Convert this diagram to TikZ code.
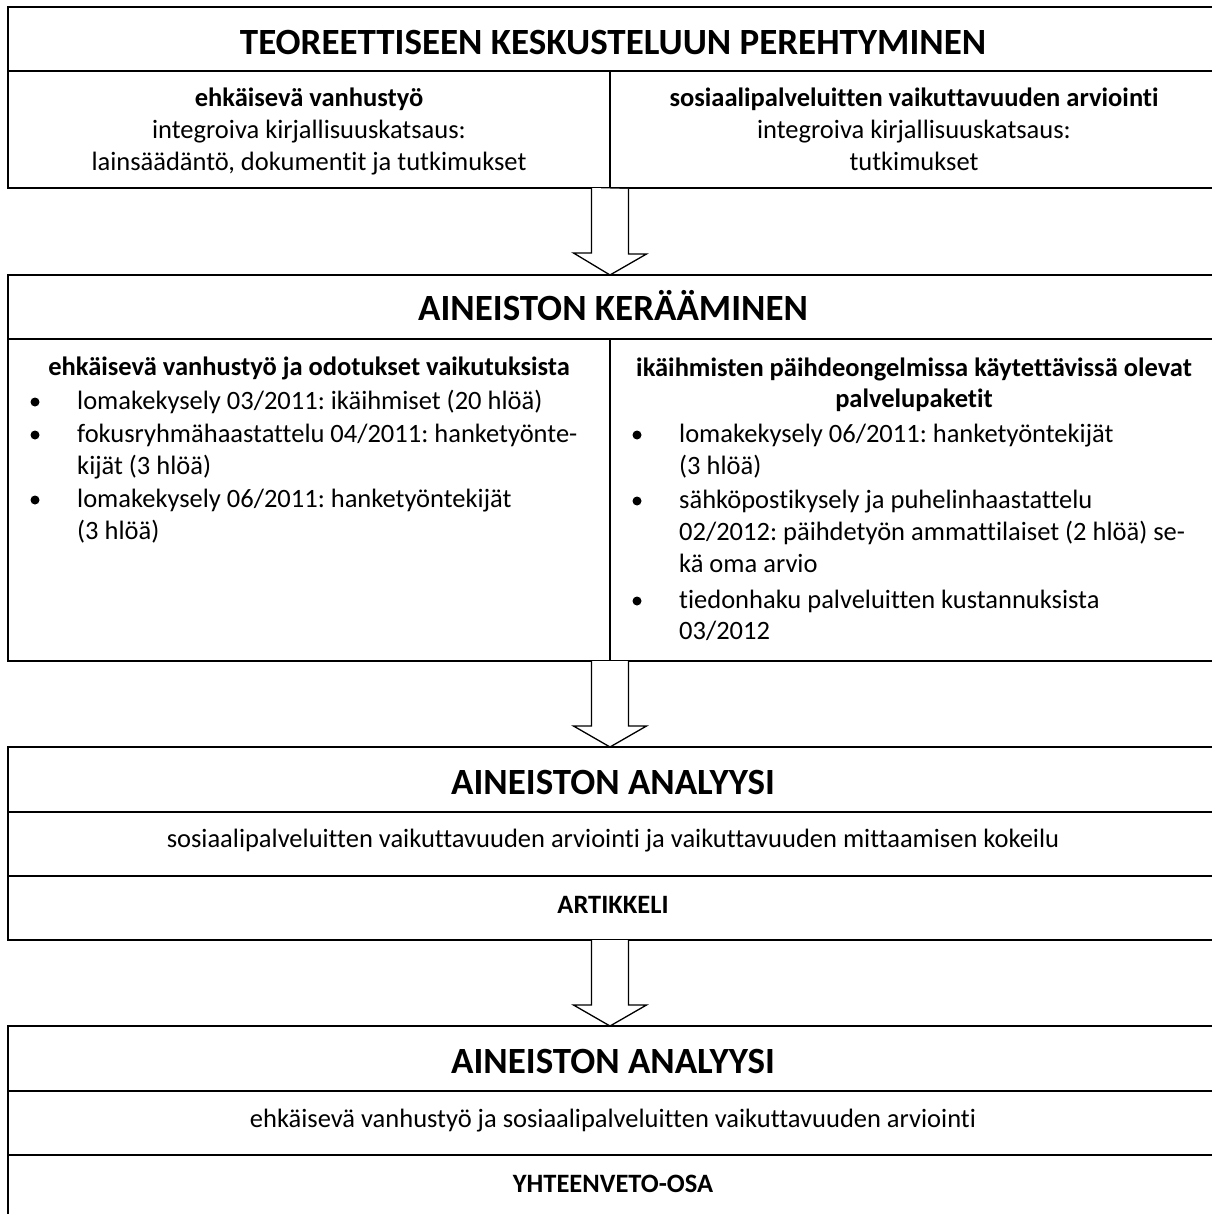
\documentclass[tikz,border=0pt]{standalone}
\usepackage{fontspec}
\setmainfont{Carlito}[Ligatures={NoCommon}]
\usetikzlibrary{calc}
\frenchspacing
\begin{document}
\begin{tikzpicture}[x=1pt,y=-1pt,
  sect/.style={draw=black,line width=1.8pt,anchor=north west,minimum width=1210pt,inner sep=0pt,outer sep=0pt},
  divider/.style={draw=black,line width=1.8pt},
  barrow/.style={draw=black,fill=white,line width=1.3pt,line join=miter},
  ttl/.style={font=\bfseries\fontsize{37}{44}\selectfont,inner sep=0pt,anchor=base},
  txt/.style={font=\fontsize{26.5}{32}\selectfont,inner sep=0pt,anchor=base},
  btxt/.style={font=\bfseries\fontsize{26.5}{32}\selectfont,inner sep=0pt,anchor=base},
  itm/.style={font=\fontsize{26.5}{32}\selectfont,inner sep=0pt,anchor=base west},
  bul/.style={circle,fill=black,inner sep=0pt,minimum size=9pt}]
\useasboundingbox (0,0) rectangle (1211,1214);
% sections
\node[sect,minimum height=181pt] (S1) at (8,7) {};
\node[sect,minimum height=386pt] (S2) at (8,275) {};
\node[sect,minimum height=193pt] (S3) at (8,747) {};
\node[sect,minimum height=196pt] (S4) at (8,1026) {};
% dividers
\draw[divider] (8,71) coordinate (h1a) -- (1218,71) coordinate (h1b);
\draw[divider] (610,71) coordinate (v1a) -- (610,188) coordinate (v1b);
\draw[divider] (8,339) coordinate (h2a) -- (1218,339) coordinate (h2b);
\draw[divider] (610,339) coordinate (v2a) -- (610,661) coordinate (v2b);
\draw[divider] (8,812) coordinate (h3a) -- (1218,812) coordinate (h3b);
\draw[divider] (8,876) coordinate (h3c) -- (1218,876) coordinate (h3d);
\draw[divider] (8,1091) coordinate (h4a) -- (1218,1091) coordinate (h4b);
\draw[divider] (8,1155) coordinate (h4c) -- (1218,1155) coordinate (h4d);
% block arrows
\coordinate (T1) at (v1b);
\coordinate (T2) at (v2b);
\coordinate (T3) at ($(S3.south west)+(602,0)$);
\foreach \t/\n in {T1/S2,T2/S3,T3/S4}{
  \draw[barrow] (\t) ++(-18.5,0) -- ++(0,65) -- ++(-18,0) -- (\t |- \n.north) -- ++(36.5,-21) -- ++(-18,0) -- ++(0,-65);
}
% section 1
\node[ttl] (t1) at (613,55) {TEOREETTISEEN KESKUSTELUUN PEREHTYMINEN};
\node[btxt] (l1a) at (309,107) {ehkäisevä vanhustyö};
\node[txt] (l1b) at (309,139) {integroiva kirjallisuuskatsaus:};
\node[txt] (l1c) at (309,171) {lainsäädäntö, dokumentit ja tutkimukset};
\node[btxt] (r1a) at (914,107) {sosiaalipalveluitten vaikuttavuuden arviointi};
\node[txt] (r1b) at (914,139) {integroiva kirjallisuuskatsaus:};
\node[txt] (r1c) at (914,171) {tutkimukset};
% section 2
\node[ttl] (t2) at (613,320) {AINEISTON KERÄÄMINEN};
\node[btxt] (l2h) at (309,375) {ehkäisevä vanhustyö ja odotukset vaikutuksista};
\node[bul] (lb1) at (35,402) {};
\node[itm] (l2a) at (77,409) {lomakekysely 03/2011: ikäihmiset (20 hlöä)};
\node[bul] (lb2) at (35,435) {};
\node[itm] (l2b) at (77,442) {fokusryhmähaastattelu 04/2011: hanketyönte-};
\node[itm] (l2c) at (77,474) {kijät (3 hlöä)};
\node[bul] (lb3) at (35,500) {};
\node[itm] (l2d) at (77,507) {lomakekysely 06/2011: hanketyöntekijät};
\node[itm] (l2e) at (77,539) {(3 hlöä)};
\node[btxt] (r2h) at (914,376) {ikäihmisten päihdeongelmissa käytettävissä olevat};
\node[btxt] (r2i) at (914,407) {palvelupaketit};
\node[bul] (rb1) at (637,435) {};
\node[itm] (r2a) at (679,442) {lomakekysely 06/2011: hanketyöntekijät};
\node[itm] (r2b) at (679,474) {(3 hlöä)};
\node[bul] (rb2) at (637,501) {};
\node[itm] (r2c) at (679,508) {sähköpostikysely ja puhelinhaastattelu};
\node[itm] (r2d) at (679,540) {02/2012: päihdetyön ammattilaiset (2 hlöä) se-};
\node[itm] (r2e) at (679,572) {kä oma arvio};
\node[bul] (rb3) at (637,601) {};
\node[itm] (r2f) at (679,608) {tiedonhaku palveluitten kustannuksista};
\node[itm] (r2g) at (679,639) {03/2012};
% section 3
\node[ttl] (t3) at (613,794) {AINEISTON ANALYYSI};
\node[txt] (m3) at (613,847) {sosiaalipalveluitten vaikuttavuuden arviointi ja vaikuttavuuden mittaamisen kokeilu};
\node[btxt] (a3) at (613,913) {ARTIKKELI};
% section 4
\node[ttl] (t4) at (613,1073) {AINEISTON ANALYYSI};
\node[txt] (m4) at (613,1127) {ehkäisevä vanhustyö ja sosiaalipalveluitten vaikuttavuuden arviointi};
\node[btxt] (a4) at (613,1192) {YHTEENVETO-OSA};
\end{tikzpicture}
\end{document}
